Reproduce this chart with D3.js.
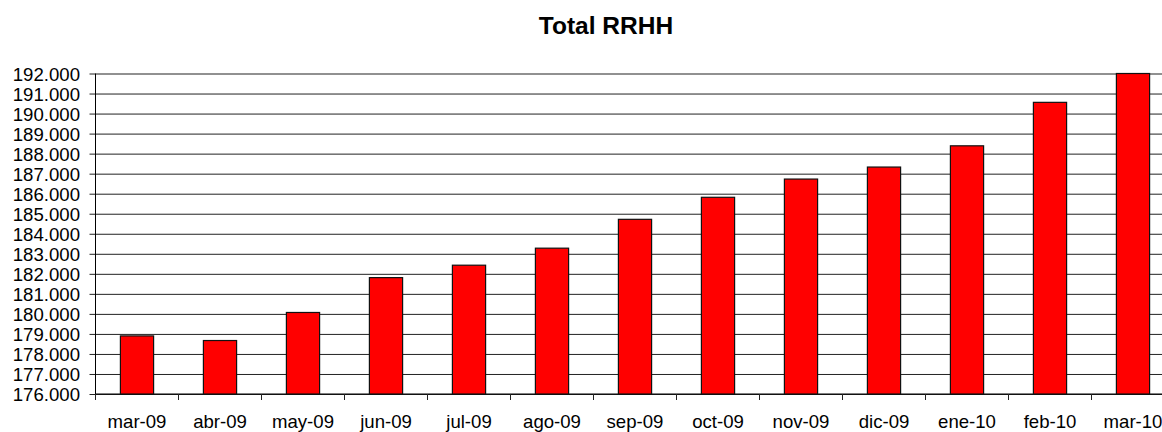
<!DOCTYPE html>
<html>
<head>
<meta charset="utf-8">
<script src="https://cdn.jsdelivr.net/npm/d3@7"></script>
<style>
  body { margin: 0; background: #fff; }
  svg { display: block; font-family: 'Liberation Sans', Arial, sans-serif; }
</style>
</head>
<body>
<div id="chart"></div>
<script>
// data
const months = ['mar-09', 'abr-09', 'may-09', 'jun-09', 'jul-09', 'ago-09', 'sep-09',
                'oct-09', 'nov-09', 'dic-09', 'ene-10', 'feb-10', 'mar-10']
const totals = [178900, 178670, 180070, 181810, 182430, 183280, 184720,
                185820, 186730, 187330, 188390, 190560, 192000]
const yTicks = d3.range(176000, 192001, 1000)

const W = 1162, H = 432
const margin = { top: 73.5, left: 95.5, bottom: 38 }
const bandStep = 83
const plotW = bandStep * months.length
const plotH = H - margin.top - margin.bottom

// 192000 -> "192.000"
const tickFmt = d => d3.format(',')(d).replace(/,/g, '.')

const svg = d3.select('#chart').append('svg')
    .attr('width', W).attr('height', H)

// title
svg.append('text')
    .attr('x', 606).attr('y', 33.5)
    .attr('text-anchor', 'middle')
    .style('font-size', '24.5px')
    .style('font-weight', 'bold')
    .text('Total RRHH')

const g = svg.append('g')
    .attr('transform', `translate(${margin.left},${margin.top})`)

const x = d3.scaleBand()
    .domain(months)
    .range([0, plotW])
    .paddingInner(0.6)
    .paddingOuter(0.3)

const y = d3.scaleLinear()
    .domain([176000, 192000])
    .range([plotH, 0])

// gridlines + y axis
g.append('g')
    .call(d3.axisLeft(y).tickValues(yTicks).tickSize(6).tickFormat(tickFmt))
    .call(a => a.select('.domain').remove())
    .call(a => a.selectAll('.tick line').attr('stroke', '#222'))
    .call(a => a.selectAll('.tick').append('line')
        .attr('x2', plotW).attr('stroke', '#222'))
    .call(a => a.selectAll('text')
        .attr('x', -15.5)
        .attr('dy', '0.35em')
        .style('font-size', '18.6px')
        .style('font-family', "'Liberation Sans', Arial, sans-serif")
        .attr('fill', '#000'))

// y axis line
g.append('line')
    .attr('x1', 0).attr('x2', 0)
    .attr('y1', 0).attr('y2', plotH)
    .attr('stroke', '#000')

// x axis: ticks between categories
const xAxis = g.append('g')
    .attr('transform', `translate(0,${plotH})`)
xAxis.append('line')
    .attr('x1', 0).attr('x2', plotW)
    .attr('stroke', '#000')
xAxis.selectAll('.sep')
    .data(d3.range(months.length + 1))
    .join('line')
    .attr('class', 'sep')
    .attr('x1', i => i * x.step()).attr('x2', i => i * x.step())
    .attr('y1', 0).attr('y2', 6)
    .attr('stroke', '#222')
xAxis.selectAll('.lbl')
    .data(months)
    .join('text')
    .attr('class', 'lbl')
    .attr('x', d => x(d) + x.bandwidth() / 2)
    .attr('y', 34)
    .attr('text-anchor', 'middle')
    .style('font-size', '18.6px')
    .text(d => d)

// bars
g.selectAll('.bar')
    .data(months.map((m, i) => ({ m, v: totals[i] })))
    .join('rect')
    .attr('class', 'bar')
    .attr('x', d => x(d.m))
    .attr('width', x.bandwidth())
    .attr('y', d => y(d.v))
    .attr('height', d => plotH - y(d.v))
    .attr('fill', '#ff0000')
    .attr('stroke', '#111')
    .attr('stroke-width', 1.2)
</script>
</body>
</html>
